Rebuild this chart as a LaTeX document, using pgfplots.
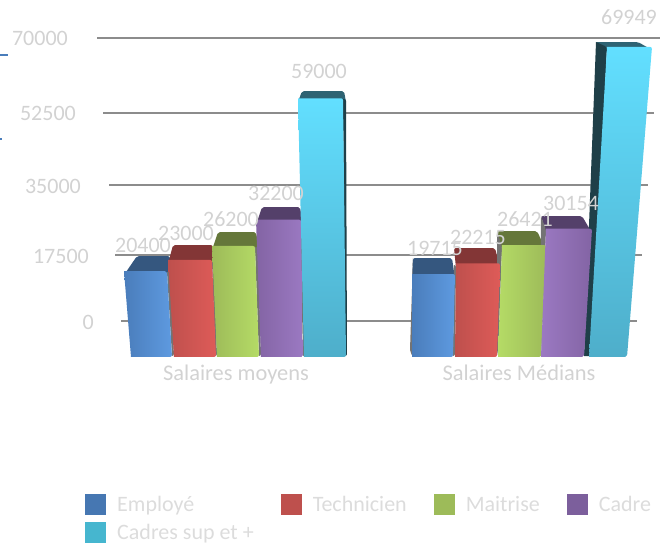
\documentclass[border=0pt]{standalone}
\usepackage{pgfplots}
\usepackage{fontspec}
\setmainfont{Carlito}
\pgfplotsset{compat=1.18}
\definecolor{gridc}{HTML}{8C8C8C}
\definecolor{labc}{HTML}{D2D2D2}
\definecolor{legc}{HTML}{DCDCDC}
\definecolor{bluea}{HTML}{4A7DBB}\definecolor{blueb}{HTML}{5E9AE0}\definecolor{bluet}{HTML}{35577F}
\definecolor{reda}{HTML}{BE504D}\definecolor{redb}{HTML}{DE5B58}\definecolor{redt}{HTML}{833636}
\definecolor{grea}{HTML}{9DBB59}\definecolor{greb}{HTML}{B5DB66}\definecolor{gret}{HTML}{65773A}
\definecolor{pura}{HTML}{8364A4}\definecolor{purb}{HTML}{9B79C2}\definecolor{purt}{HTML}{54406A}
\definecolor{cyaa}{HTML}{62DFFF}\definecolor{cyab}{HTML}{4EAECA}\definecolor{cyat}{HTML}{2E6373}\definecolor{cyad}{HTML}{1F3F48}
\newcommand{\face}[2]{\addplot[fill=#1,draw=none,forget plot,rounded corners=2pt] coordinates {#2};}
\newcommand{\front}[7]{\addplot[left color=#1,right color=#2,draw=none,forget plot,rounded corners=2pt] coordinates {(#3,#7)(#4,#7)(#6,0)(#5,0)};}
\newcommand{\frontv}[7]{\addplot[top color=#1,bottom color=#2,draw=none,forget plot,rounded corners=2pt] coordinates {(#3,#7)(#4,#7)(#6,0)(#5,0)};}
\begin{document}
\begin{tikzpicture}
\path[use as bounding box] (0pt,0pt) rectangle (664pt,546pt);
% back wall, top and side faces, in image pixels
\begin{axis}[at={(94pt,0pt)},anchor=south west,scale only axis,width=570pt,height=546pt,
  xmin=94,xmax=664,ymin=0,ymax=546,y dir=reverse,clip=false,
  axis line style={draw=none},tick style={draw=none},xtick=\empty,
  ytick={38,113,186,256,322},
  yticklabels={70000\hspace*{26pt},52500\hspace*{18pt},35000\hspace*{13pt},17500\hspace*{5pt},0},
  yticklabel style={anchor=east,inner xsep=0pt,text=labc,font=\fontsize{22}{24}\selectfont}]
\addplot[gridc,line width=2.6pt] coordinates {(97,38)(660,38)};
\addplot[gridc,line width=2.6pt] coordinates {(103,113)(654,113)};
\addplot[gridc,line width=2.6pt] coordinates {(109,185)(648,185)};
\addplot[gridc,line width=2.6pt] coordinates {(115,255)(642,255)};
\addplot[gridc,line width=2.6pt] coordinates {(121,321)(637,321)};
\addplot[bluea,line width=1.6pt] coordinates {(0,55)(8,55)};
\addplot[bluea,line width=1.6pt] coordinates {(0,139)(2,139)};
% group 1
\face{bluet}{(124,275)(137,256)(170,256)(172,275)}
\face{redt}{(168,264)(173,245)(213,245)(216,264)}
\face{gret}{(212,250)(218,232)(256,232)(259,250)}
\face{purt}{(256,225)(262,207)(300,207)(303,225)}
\face{cyat}{(298,102)(302,91)(344,91)(346,102)}
\face{cyad}{(343,99)(346,99)(347,356)(345,356)}
\face{black!55}{(167,272)(170,272)(174,356)(172,356)}
\face{black!55}{(212,261)(214,261)(217,356)(215,356)}
\face{black!55}{(255,247)(258,247)(261,356)(259,356)}
\face{black!55}{(300,222)(303,222)(305,356)(303,356)}
% group 2
\face{bluet}{(412,279)(413,258)(452,258)(455,279)}
\face{redt}{(456,268)(454,248)(495,248)(500,268)}
\face{gret}{(502,250)(497,231)(537,231)(546,250)}
\face{purt}{(546,233)(541,216)(582,216)(592,233)}
\face{cyat}{(596,42)(638,42)(652,50)(607,50)}
\face{cyad}{(596,42)(607,47)(592,356)(584,356)}
\face{black!55}{(413,258)(412,276)(412,356)(410,350)}
\face{black!55}{(454,265)(456,265)(455,356)(453,356)}
\face{black!55}{(497,231)(502,247)(498,356)(497,350)}
\face{black!55}{(541,216)(546,230)(541,356)(540,350)}
\end{axis}
% front faces: true values on the front plane, which perspective stretches upwards
\begin{axis}[at={(0pt,189pt)},anchor=south west,scale only axis,width=664pt,height=357pt,
  xmin=0,xmax=664,ymin=0,ymax=79716,clip=false,
  y coord trafo/.code={\begingroup\pgfkeys{/pgf/fpu=true,/pgf/fpu/output format=fixed}\pgfmathparse{#1+1.092e-6*(#1)*(#1)}\pgfmathsmuggle\pgfmathresult\endgroup},
  axis line style={draw=none},tick style={draw=none},ytick=\empty,
  xtick={236,519},xticklabels={Salaires moyens,Salaires Médians},
  xticklabel style={text=labc,font=\fontsize{22.4}{24}\selectfont,yshift=-4pt},
  legend columns=4,legend cell align=left,
  legend style={at={(85/664,-0.384)},anchor=north west,draw=none,fill=none,inner sep=0pt,
    row sep=7pt,font=\fontsize{22}{28}\selectfont,text=legc,
    /tikz/every odd column/.append style={column sep=9pt},
    /tikz/every even column/.append style={column sep=25pt}},
  legend image code/.code={\fill[#1,draw=none] (0pt,-10.5pt) rectangle (21pt,10.5pt);}]
\front{bluea}{blueb}{124}{167}{131}{172}{20400}
\front{reda}{redb}{168}{212}{174}{216}{23000}
\front{grea}{greb}{212}{255}{217}{259}{26200}
\front{pura}{purb}{256}{301}{261}{303}{32200}
\frontv{cyaa}{cyab}{298}{343}{304}{346}{59000}
\front{bluea}{blueb}{412}{455}{412}{453}{19715}
\front{reda}{redb}{456}{500}{455}{497}{22215}
\front{greb}{grea}{502}{546}{498}{541}{26421}
\front{purb}{pura}{546}{592}{541}{584}{30154}
\frontv{cyaa}{cyab}{607}{652}{589}{627}{69949}
\addlegendimage{fill=bluea!95!black}\addlegendentry{Employé}
\addlegendimage{fill=reda}\addlegendentry{Technicien}
\addlegendimage{fill=grea}\addlegendentry{Maitrise}
\addlegendimage{fill=pura!95!black}\addlegendentry{Cadre}
\addlegendimage{fill=cyab!90!cyan}\addlegendentry{Cadres sup et +}
\end{axis}
% value labels
\begin{scope}[every node/.style={text=labc,font=\fontsize{22}{24}\selectfont,inner sep=0pt}]
\node at (143pt,301pt) {20400};
\node at (186pt,313pt) {23000};
\node at (231pt,327pt) {26200};
\node at (276pt,353pt) {32200};
\node at (319pt,475pt) {59000};
\node at (435pt,298pt) {19715};
\node at (478pt,309pt) {22215};
\node at (525pt,327pt) {26421};
\node at (571pt,343pt) {30154};
\node at (629pt,529pt) {69949};
\end{scope}
\end{tikzpicture}
\end{document}
